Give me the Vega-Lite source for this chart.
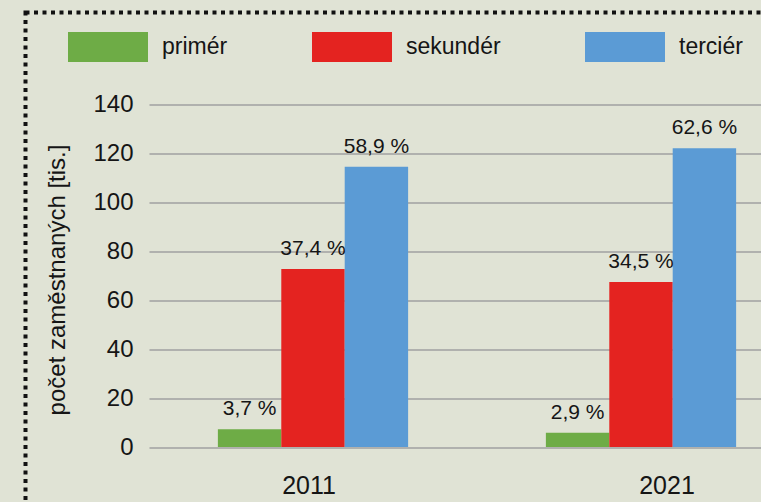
{
  "$schema": "https://vega.github.io/schema/vega-lite/v6.json",
  "autosize": {"type": "none"},
  "padding": {"left": 25.5, "top": 12.5, "right": -30, "bottom": -30},
  "width": 765.5,
  "height": 519.5,
  "background": "#e0e3d5",
  "config": {
    "font": "Liberation Sans",
    "view": {"stroke": "#111111", "strokeWidth": 4, "strokeDash": [4, 4.5], "fill": null}
  },
  "data": {
    "values": [
      {"year": "2011", "sector": "primér", "value": 7.2, "pct": "3,7 %"},
      {"year": "2011", "sector": "sekundér", "value": 72.7, "pct": "37,4 %"},
      {"year": "2011", "sector": "terciér", "value": 114.4, "pct": "58,9 %"},
      {"year": "2021", "sector": "primér", "value": 5.8, "pct": "2,9 %"},
      {"year": "2021", "sector": "sekundér", "value": 67.3, "pct": "34,5 %"},
      {"year": "2021", "sector": "terciér", "value": 121.9, "pct": "62,6 %"}
    ]
  },
  "encoding": {
    "x": {
      "field": "year", "type": "nominal",
      "scale": {"range": [123.5, 779.5], "paddingInner": 0.42, "paddingOuter": 0.21},
      "axis": {
        "title": null, "orient": "bottom", "offset": -85, "domain": false, "ticks": false, "grid": false,
        "labelAngle": 0, "labelFontSize": 25, "labelColor": "#151515", "labelPadding": 26,
        "labelOffset": {"condition": {"test": "datum.value == '2021'", "value": 26}, "value": -4}
      }
    },
    "xOffset": {
      "field": "sector", "type": "nominal", "sort": ["primér", "sekundér", "terciér"],
      "scale": {"paddingInner": 0, "paddingOuter": 0}
    },
    "y": {
      "field": "value", "type": "quantitative",
      "scale": {"domain": [0, 140], "range": [434.5, 91.5], "nice": false},
      "axis": {
        "title": "počet zaměstnaných [tis.]", "offset": -123.5,
        "values": [0, 20, 40, 60, 80, 100, 120, 140],
        "domain": false, "ticks": false, "grid": true, "gridColor": "#a0a0a0", "gridWidth": 1.5,
        "labelFontSize": 24, "labelColor": "#151515", "labelPadding": 16,
        "titleFontSize": 24, "titleFontWeight": "normal", "titleColor": "#151515",
        "titleX": -80, "titleY": 267
      }
    }
  },
  "layer": [
    {
      "mark": {"type": "bar", "strokeWidth": 0},
      "encoding": {
        "color": {
          "field": "sector", "type": "nominal",
          "scale": {"domain": ["primér", "sekundér", "terciér"], "range": ["#6eac46", "#e42320", "#5b9bd5"]},
          "legend": {
            "title": null, "orient": "none", "direction": "horizontal", "columns": 3,
            "legendX": 42.5, "legendY": -5.5, "padding": 0,
            "symbolType": "M-1,-0.375H1V0.375H-1Z", "symbolSize": 6400, "symbolStrokeWidth": 0,
            "symbolOpacity": 1,
            "labelFontSize": 23, "labelColor": "#151515", "labelOffset": 14, "columnPadding": 84,
            "labelLimit": 300
          }
        }
      }
    },
    {
      "mark": {"type": "text", "fontSize": 21, "color": "#151515", "baseline": "alphabetic", "dy": -14},
      "encoding": {"text": {"field": "pct"}}
    }
  ]
}
